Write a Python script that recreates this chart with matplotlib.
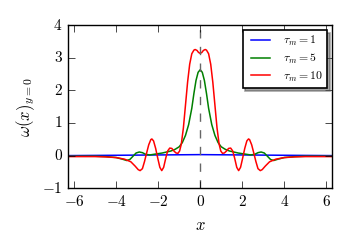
import matplotlib
matplotlib.use("Agg")
import matplotlib.pyplot as plt
from matplotlib.ticker import FuncFormatter

plt.style.use("classic")
plt.rcParams["mathtext.fontset"] = "cm"
plt.rcParams["font.family"] = "serif"

# values
x_blue = [-6.28, -4.0, -2.0, -1.0, 0.0, 1.0, 2.0, 4.0, 6.28]
y_blue = [0.0, 0.01, 0.02, 0.025, 0.03, 0.025, 0.02, 0.01, 0.0]

x_green = [-6.28, -5.0, -4.5, -4.0, -3.7, -3.5, -3.35, -3.2, -3.05, -2.9, -2.75,
           -2.6, -2.4, -2.2, -2.0, -1.8, -1.6, -1.4, -1.2, -1.0, -0.85, -0.7,
           -0.55, -0.4, -0.3, -0.2, -0.1, 0.0,
           0.1, 0.2, 0.3, 0.4, 0.55, 0.7, 0.85, 1.0, 1.2, 1.4, 1.6, 1.8, 2.0,
           2.2, 2.4, 2.6, 2.75, 2.9, 3.05, 3.2, 3.35, 3.5, 3.7, 4.0, 4.5, 5.0, 6.28]
y_green = [-0.02, -0.02, -0.03, -0.06, -0.11, -0.15, -0.12, -0.02, 0.08, 0.11, 0.09,
           0.04, 0.02, 0.04, 0.06, 0.08, 0.11, 0.14, 0.19, 0.27, 0.40, 0.62,
           0.95, 1.45, 1.90, 2.30, 2.55, 2.63,
           2.55, 2.30, 1.90, 1.45, 0.95, 0.62, 0.40, 0.27, 0.19, 0.14, 0.11, 0.08, 0.06,
           0.04, 0.02, 0.04, 0.09, 0.11, 0.08, -0.02, -0.12, -0.15, -0.11, -0.06, -0.03, -0.02, -0.02]

x_red = [-6.28, -5.0, -4.5, -4.0, -3.6, -3.3, -3.1, -2.95, -2.86, -2.75, -2.65,
         -2.55, -2.45, -2.35, -2.3, -2.22, -2.12, -2.02, -1.92, -1.83, -1.74,
         -1.64, -1.55, -1.45, -1.35, -1.25, -1.15, -1.06, -0.98, -0.9, -0.8,
         -0.7, -0.6, -0.5, -0.4, -0.3, -0.24, -0.15, -0.08, 0.0,
         0.08, 0.15, 0.24, 0.3, 0.4, 0.5, 0.6, 0.7, 0.8, 0.9, 0.98, 1.06, 1.15,
         1.25, 1.35, 1.45, 1.55, 1.64, 1.74, 1.83, 1.92, 2.02, 2.12, 2.22, 2.3,
         2.35, 2.45, 2.55, 2.65, 2.75, 2.86, 2.95, 3.1, 3.3, 3.6, 4.0, 4.5, 5.0, 6.28]
y_red = [-0.03, -0.03, -0.04, -0.06, -0.11, -0.19, -0.32, -0.43, -0.46, -0.40, -0.18,
         0.08, 0.33, 0.49, 0.51, 0.45, 0.22, -0.08, -0.36, -0.46, -0.36,
         -0.08, 0.14, 0.23, 0.22, 0.14, 0.08, 0.07, 0.14, 0.35, 0.85,
         1.55, 2.25, 2.80, 3.12, 3.23, 3.25, 3.22, 3.16, 3.13,
         3.16, 3.22, 3.25, 3.23, 3.12, 2.80, 2.25, 1.55, 0.85, 0.35, 0.14, 0.07, 0.08,
         0.14, 0.22, 0.23, 0.14, -0.08, -0.36, -0.46, -0.36, -0.08, 0.22, 0.45, 0.51,
         0.49, 0.33, 0.08, -0.18, -0.40, -0.46, -0.43, -0.32, -0.19, -0.11, -0.06, -0.04, -0.03, -0.03]

x_ticks = [-6, -4, -2, 0, 2, 4, 6]
y_ticks = [-1, 0, 1, 2, 3, 4]

fig = plt.figure(figsize=(3.5, 2.5), dpi=100, facecolor="white")
ax = fig.add_axes([0.195, 0.247, 0.754, 0.653])

ax.plot(x_blue, y_blue, color="b", lw=1.1, label=r"$\tau_m = 1$")
ax.plot(x_green, y_green, color="g", lw=1.1, label=r"$\tau_m = 5$")
ax.plot(x_red, y_red, color="r", lw=1.1, label=r"$\tau_m = 10$")
ax.axvline(0, color="0.4", ls="--", lw=1)

ax.set_xlim(-6.28, 6.28)
ax.set_ylim(-1, 4)
ax.set_xticks(x_ticks)
ax.set_yticks(y_ticks)
fmt = FuncFormatter(lambda v, pos: r"$%d$" % v)
ax.xaxis.set_major_formatter(fmt)
ax.yaxis.set_major_formatter(fmt)
ax.tick_params(labelsize=11, length=5, pad=4)

ax.set_xlabel(r"$x$", fontsize=12, labelpad=6)
ax.set_ylabel(r"$\omega(x)_{y=0}$", fontsize=12, labelpad=4)

leg = ax.legend(loc="upper right", fontsize=8.5, shadow=True, fancybox=False,
                handlelength=2.2, borderpad=0.4, labelspacing=0.3,
                borderaxespad=0.4)
leg.get_frame().set_linewidth(1.2)

fig.savefig("out.png", dpi=100, facecolor="white")
